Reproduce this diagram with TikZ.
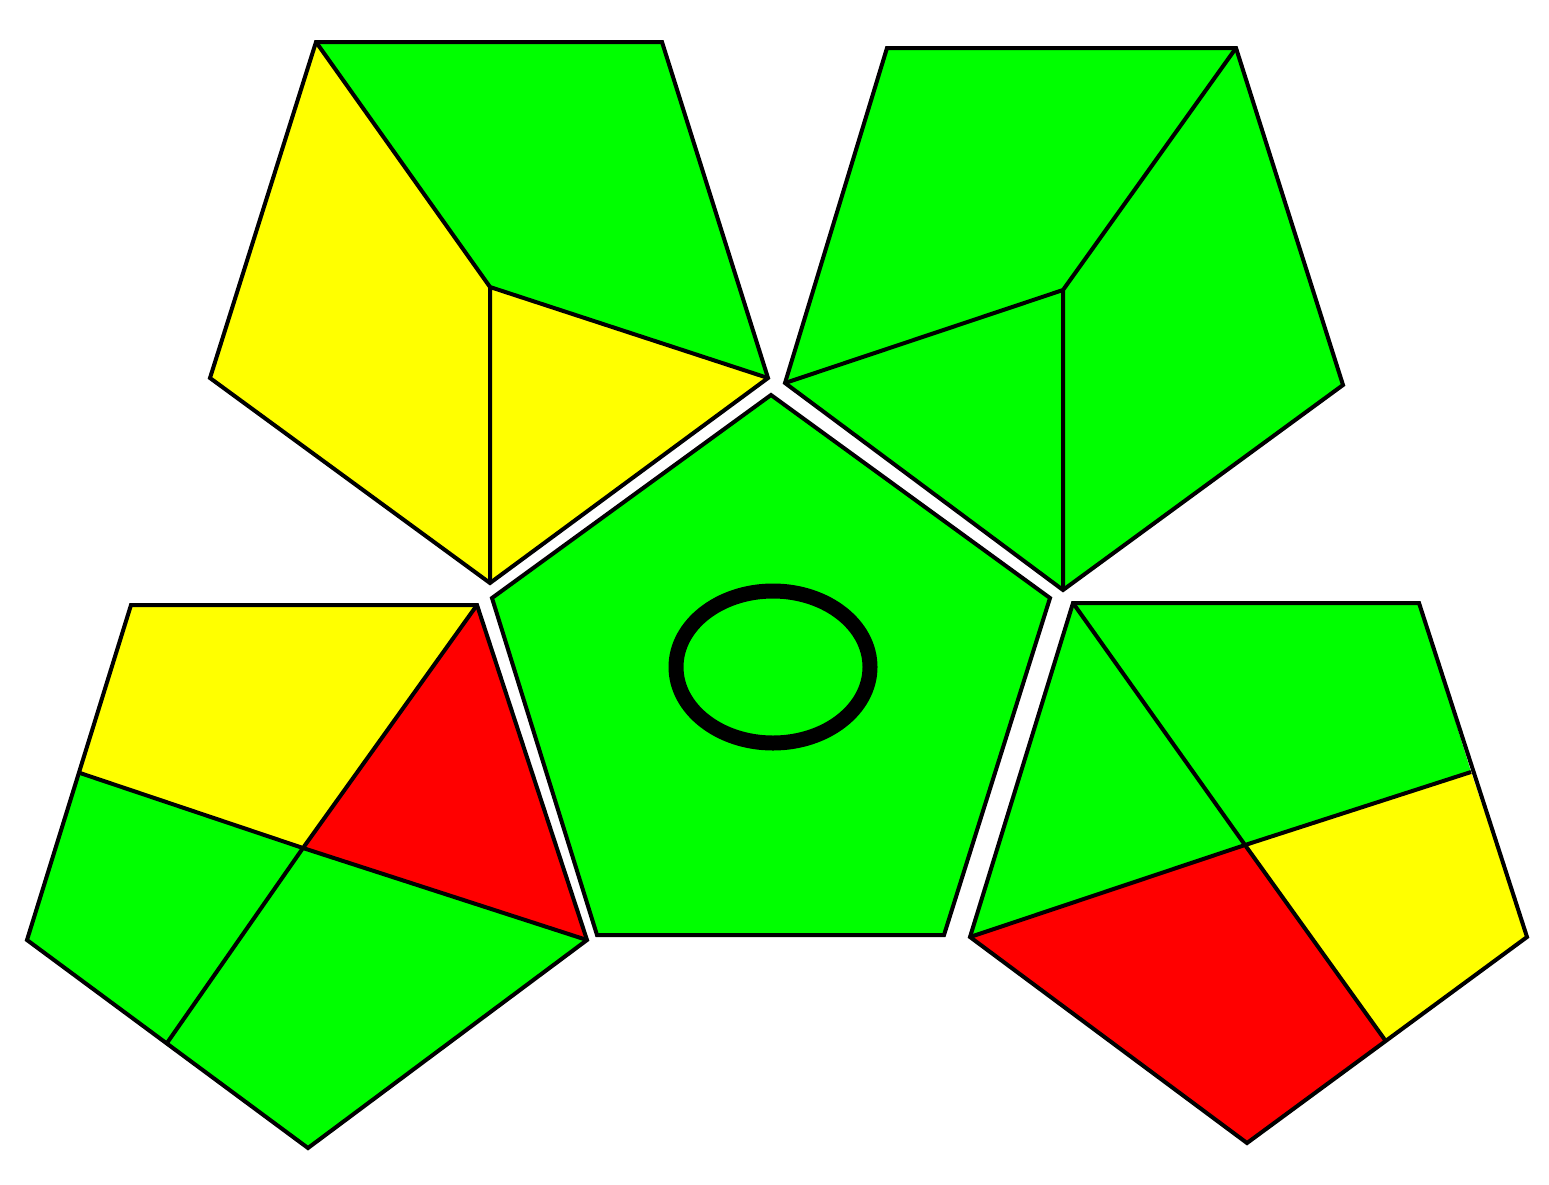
\documentclass[tikz,border=0pt]{standalone}
\definecolor{gr}{RGB}{0,255,0}
\definecolor{ye}{RGB}{255,255,0}
\definecolor{rd}{RGB}{255,0,0}
\begin{document}
\begin{tikzpicture}[x=1pt,y=-1pt,
  edge/.style={draw=black,line width=4pt,line join=miter},
  gfill/.style={fill=gr},
  yfill/.style={fill=ye},
  rfill/.style={fill=rd}]
\useasboundingbox[fill=white] (0,0) rectangle (1549,1184);
% centre pentagon
\coordinate (c1) at (771,395);
\coordinate (c2) at (1050,598);
\coordinate (c3) at (944,935);
\coordinate (c4) at (597,935);
\coordinate (c5) at (492,598);
\fill[gfill] (c1)--(c2)--(c3)--(c4)--(c5)--cycle;
\draw[edge] (c1)--(c2)--(c3)--(c4)--(c5)--cycle;
\draw[line width=15pt] (773,667) ellipse [x radius=97, y radius=76];
% top-left pentagon
\coordinate (a1) at (316,42);
\coordinate (a2) at (662,42);
\coordinate (a3) at (768,378);
\coordinate (a4) at (490,583);
\coordinate (a5) at (210,378);
\coordinate (ai) at (490,287);
\fill[gfill] (a1)--(a2)--(a3)--(ai)--cycle;
\fill[yfill] (a1)--(ai)--(a4)--(a5)--cycle;
\fill[yfill] (ai)--(a3)--(a4)--cycle;
\draw[edge] (a1)--(a2)--(a3)--(a4)--(a5)--cycle;
\draw[edge] (a1)--(ai)--(a3) (ai)--(a4);
% top-right pentagon
\coordinate (b1) at (887,48);
\coordinate (b2) at (1236,48);
\coordinate (b3) at (1343,385);
\coordinate (b4) at (1063,590);
\coordinate (b5) at (785,383);
\coordinate (bi) at (1063,290);
\fill[gfill] (b1)--(b2)--(b3)--(b4)--(b5)--cycle;
\draw[edge] (b1)--(b2)--(b3)--(b4)--(b5)--cycle;
\draw[edge] (b2)--(bi)--(b5) (bi)--(b4);
% bottom-left pentagon
\coordinate (d1) at (131,605);
\coordinate (d2) at (477,605);
\coordinate (d3) at (587,940);
\coordinate (d4) at (308,1148);
\coordinate (d5) at (27,940);
\coordinate (di) at (303,848);
\coordinate (dl) at (80,773);
\coordinate (db) at (167,1043);
\fill[yfill] (d1)--(d2)--(di)--(dl)--cycle;
\fill[rfill] (d2)--(d3)--(di)--cycle;
\fill[gfill] (dl)--(di)--(db)--(d5)--cycle;
\fill[gfill] (di)--(d3)--(d4)--(db)--cycle;
\draw[edge] (d1)--(d2)--(d3)--(d4)--(d5)--cycle;
\draw[edge] (d2)--(di)--(d3) (dl)--(di)--(db);
% bottom-right pentagon
\coordinate (e1) at (1073,603);
\coordinate (e2) at (1419,603);
\coordinate (e3) at (1527,937);
\coordinate (e4) at (1247,1143);
\coordinate (e5) at (970,937);
\coordinate (ei) at (1245,845);
\coordinate (er) at (1471,772);
\coordinate (eb) at (1385,1040);
\fill[gfill] (e1)--(e2)--(er)--(ei)--cycle;
\fill[gfill] (e1)--(ei)--(e5)--cycle;
\fill[yfill] (ei)--(er)--(e3)--(eb)--cycle;
\fill[rfill] (e5)--(ei)--(eb)--(e4)--cycle;
\draw[edge] (e1)--(e2)--(e3)--(e4)--(e5)--cycle;
\draw[edge] (e1)--(ei)--(e5) (ei)--(er) (ei)--(eb);
\end{tikzpicture}
\end{document}
